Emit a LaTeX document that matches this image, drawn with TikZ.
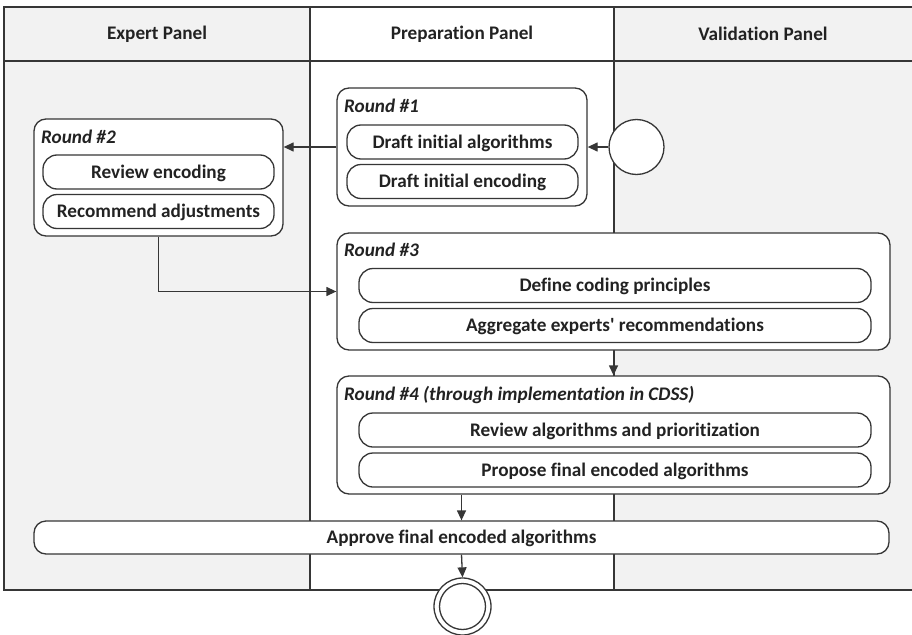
\documentclass[tikz,border=0pt]{standalone}
\usepackage{fontspec}
\setmainfont{Carlito}[Ligatures={NoCommon,TeX}]
\usetikzlibrary{arrows.meta}
\definecolor{lanebg}{HTML}{F2F2F2}
\definecolor{ln}{HTML}{363636}
\definecolor{tx}{HTML}{222222}
\begin{document}
\begin{tikzpicture}[x=1pt,y=-1pt,
  txt/.style={font=\fontsize{19.2}{23}\selectfont\bfseries, text=tx},
  hdr/.style={txt, inner sep=0pt},
  lanefill/.style={fill=lanebg, draw=none},
  laneline/.style={draw=ln, line width=1.3pt},
  roundbox/.style={draw=ln, line width=1.3pt, rounded corners=12pt, fill=white, inner sep=0pt},
  actbox/.style={draw=ln, line width=1.3pt, rounded corners=14pt, fill=white, inner sep=0pt, txt, text height=16pt, text depth=4pt},
  rlabel/.style={anchor=base west, inner sep=0pt, font=\fontsize{19.2}{23}\selectfont\bfseries\itshape, text=tx},
  flow/.style={draw=ln, line width=1.3pt, -{Triangle[length=10pt,width=9pt]}},
  endpt/.style={circle, draw=ln, line width=1.3pt, fill=white, inner sep=0pt},
  ]
\useasboundingbox (0,0) rectangle (912,634);
% swimlanes
\fill[lanefill] (4,7) rectangle (310,590);
\fill[lanefill] (614,7) rectangle (913,590);
\draw[laneline] (913,7) -- (4,7) -- (4,590) -- (913,590);
\draw[laneline] (4,61) -- (913,61);
\draw[laneline] (310,7) -- (310,590);
\draw[laneline] (614,7) -- (614,590);
\node[hdr] (hE) at (157,34) {Expert Panel};
\node[hdr] (hP) at (462,34) {Preparation Panel};
\node[hdr] (hV) at (763,34) {Validation Panel};

% Round #1
\node[roundbox, minimum width=250pt, minimum height=118pt] (r1) at (462,147) {};
\node[rlabel] (l1) at (344,112.5) {Round \#1};
\node[actbox, minimum width=231pt, minimum height=34pt] (d1) at (462.5,142) {Draft initial algorithms};
\node[actbox, minimum width=231pt, minimum height=34pt] (d2) at (462.5,181.5) {Draft initial encoding};

% start
\node[endpt, minimum size=55pt] (s) at (636.5,147) {};

% Round #2
\node[roundbox, minimum width=249pt, minimum height=117pt] (r2) at (158.5,177.5) {};
\node[rlabel] (l2) at (41,143) {Round \#2};
\node[actbox, minimum width=231pt, minimum height=34pt] (e1) at (158.5,172) {Review encoding};
\node[actbox, minimum width=231pt, minimum height=34pt] (e2) at (158.5,211.5) {Recommend adjustments};

% Round #3
\node[roundbox, minimum width=553pt, minimum height=117pt] (r3) at (613.5,291.5) {};
\node[rlabel] (l3) at (344,256.5) {Round \#3};
\node[actbox, minimum width=512pt, minimum height=34pt] (c1) at (615,285.5) {Define coding principles};
\node[actbox, minimum width=512pt, minimum height=34pt] (c2) at (615,325.5) {Aggregate experts\textquotesingle{} recommendations};

% Round #4
\node[roundbox, minimum width=553pt, minimum height=118pt] (r4) at (613.5,435) {};
\node[rlabel] (l4) at (344,400) {Round \#4 (through implementation in CDSS)};
\node[actbox, minimum width=512pt, minimum height=34pt] (f1) at (615,430) {Review algorithms and prioritization};
\node[actbox, minimum width=512pt, minimum height=34pt] (f2) at (615,470) {Propose final encoded algorithms};

% Approve
\node[actbox, rounded corners=12pt, minimum width=855pt, minimum height=33pt] (ap) at (461.5,537.5) {Approve final encoded algorithms};

% end
\node[endpt, minimum size=57pt] (e) at (462.5,606.5) {};
\node[endpt, minimum size=46pt] (ein) at (e) {};

% connectors
\draw[flow] (s.west) -- (s.west -| r1.east);
\draw[flow] (r1.west) -- (r1.west -| r2.east);
\draw[flow] (r2.south) |- (r3.west);
\draw[flow] (r3.south) -- (r4.north);
\draw[flow] (r4.south -| ap.north) -- (ap.north);
\draw[flow] (ap.south) -- (e.north);
\end{tikzpicture}
\end{document}
